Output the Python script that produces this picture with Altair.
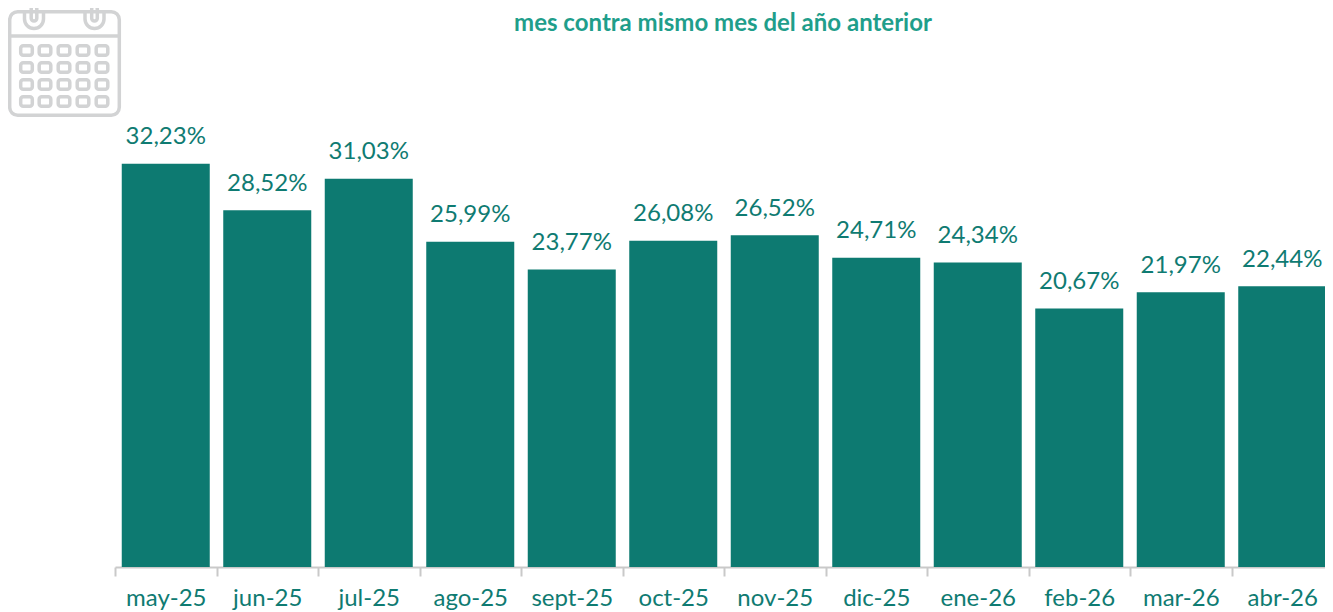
import altair as alt
import pandas as pd

months = ["may-25","jun-25","jul-25","ago-25","sept-25","oct-25","nov-25","dic-25","ene-26","feb-26","mar-26","abr-26"]
values = [32.23,28.52,31.03,25.99,23.77,26.08,26.52,24.71,24.34,20.67,21.97,22.44]
title_text = "mes contra mismo mes del año anterior"
FONT = "Lato"
BAR = "#0d7a71"
TXT = "#0f7b72"
TITLE = "#1f9e8b"
ICON = "#d2d3d4"

df = pd.DataFrame({"mes": months, "v": values,
                   "label": [f"{v:.2f}%".replace(".", ",") for v in values]})

# calendar icon as one SVG path, expressed in the symbol's unit space
CX, CY, HS = 62.5, 60.5, 56.0
def ux(x): return f"{(x-CX)/HS:.4f}"
def uy(y): return f"{(y-CY)/HS:.4f}"
def ur(r): return f"{r/HS:.4f}"
def rrect(x0, y0, x1, y1, r):
    a = ur(r)
    return (f"M{ux(x0+r)} {uy(y0)}L{ux(x1-r)} {uy(y0)}A{a} {a} 0 0 1 {ux(x1)} {uy(y0+r)}"
            f"L{ux(x1)} {uy(y1-r)}A{a} {a} 0 0 1 {ux(x1-r)} {uy(y1)}"
            f"L{ux(x0+r)} {uy(y1)}A{a} {a} 0 0 1 {ux(x0)} {uy(y1-r)}"
            f"L{ux(x0)} {uy(y0+r)}A{a} {a} 0 0 1 {ux(x0+r)} {uy(y0)}Z")
parts = [rrect(7.7, 11.7, 117.3, 115.3, 8)]
parts.append(f"M{ux(7.7)} {uy(36)}L{ux(117.3)} {uy(36)}")
for cx in (32, 92.5):
    a = ur(9.5)
    parts.append(f"M{ux(cx-9.5)} {uy(12)}L{ux(cx-9.5)} {uy(19)}A{a} {a} 0 0 0 {ux(cx+9.5)} {uy(19)}L{ux(cx+9.5)} {uy(12)}")
    parts.append(rrect(cx-2.8, 6, cx+2.8, 21, 2.8))
for cy in (50.5, 67.5, 84.5, 101.5):
    for cx in (24.5, 43, 62, 81, 100):
        parts.append(rrect(cx-5.8, cy-4.8, cx+5.8, cy+4.8, 2.5))
icon_path = "".join(parts)

x = alt.X("mes:N", sort=months, title=None,
          scale=alt.Scale(paddingInner=0, paddingOuter=0, round=False),
          axis=alt.Axis(labelFont=FONT, labelFontSize=24, labelColor=TXT, labelAngle=0,
                        labelPadding=22, labelBaseline="middle", labelOverlap=False,
                        domainColor="#c9c9c9", domainWidth=2,
                        tickColor="#c9c9c9", tickWidth=2, tickSize=9, tickBand="extent",
                        grid=False))
y = alt.Y("v:Q", scale=alt.Scale(domain=[0, 44.68]), axis=None)

bars = alt.Chart(df).mark_bar(color=BAR, width=88).encode(x=x, y=y)
labels = alt.Chart(df).mark_text(font=FONT, fontSize=24, color=TXT, baseline="bottom", dy=-14.5).encode(
    x=alt.X("mes:N", sort=months), y=y, text="label:N")
title = alt.Chart(pd.DataFrame({"t": [title_text]})).mark_text(
    font=FONT, fontSize=24, fontWeight="bold", color=TITLE, align="center", baseline="alphabetic"
).encode(x=alt.value(723 - 115), y=alt.value(23), text="t:N")
icon = alt.Chart(pd.DataFrame({"i": [0]})).mark_point(
    shape=icon_path, size=(2 * HS) ** 2, filled=False, stroke=ICON, strokeWidth=3.5, opacity=1
).encode(x=alt.value(CX + 2 - 115), y=alt.value(CY - 8))

chart = alt.layer(bars, labels, title, icon).properties(
    width=1218, height=559,
    padding={"left": 107, "top": 0, "right": -8, "bottom": 45},
    autosize=alt.AutoSizeParams(type="none"),
    background="white",
).configure_view(stroke=None)

chart.save("out.html", embed_options={"renderer": "svg", "actions": False})
